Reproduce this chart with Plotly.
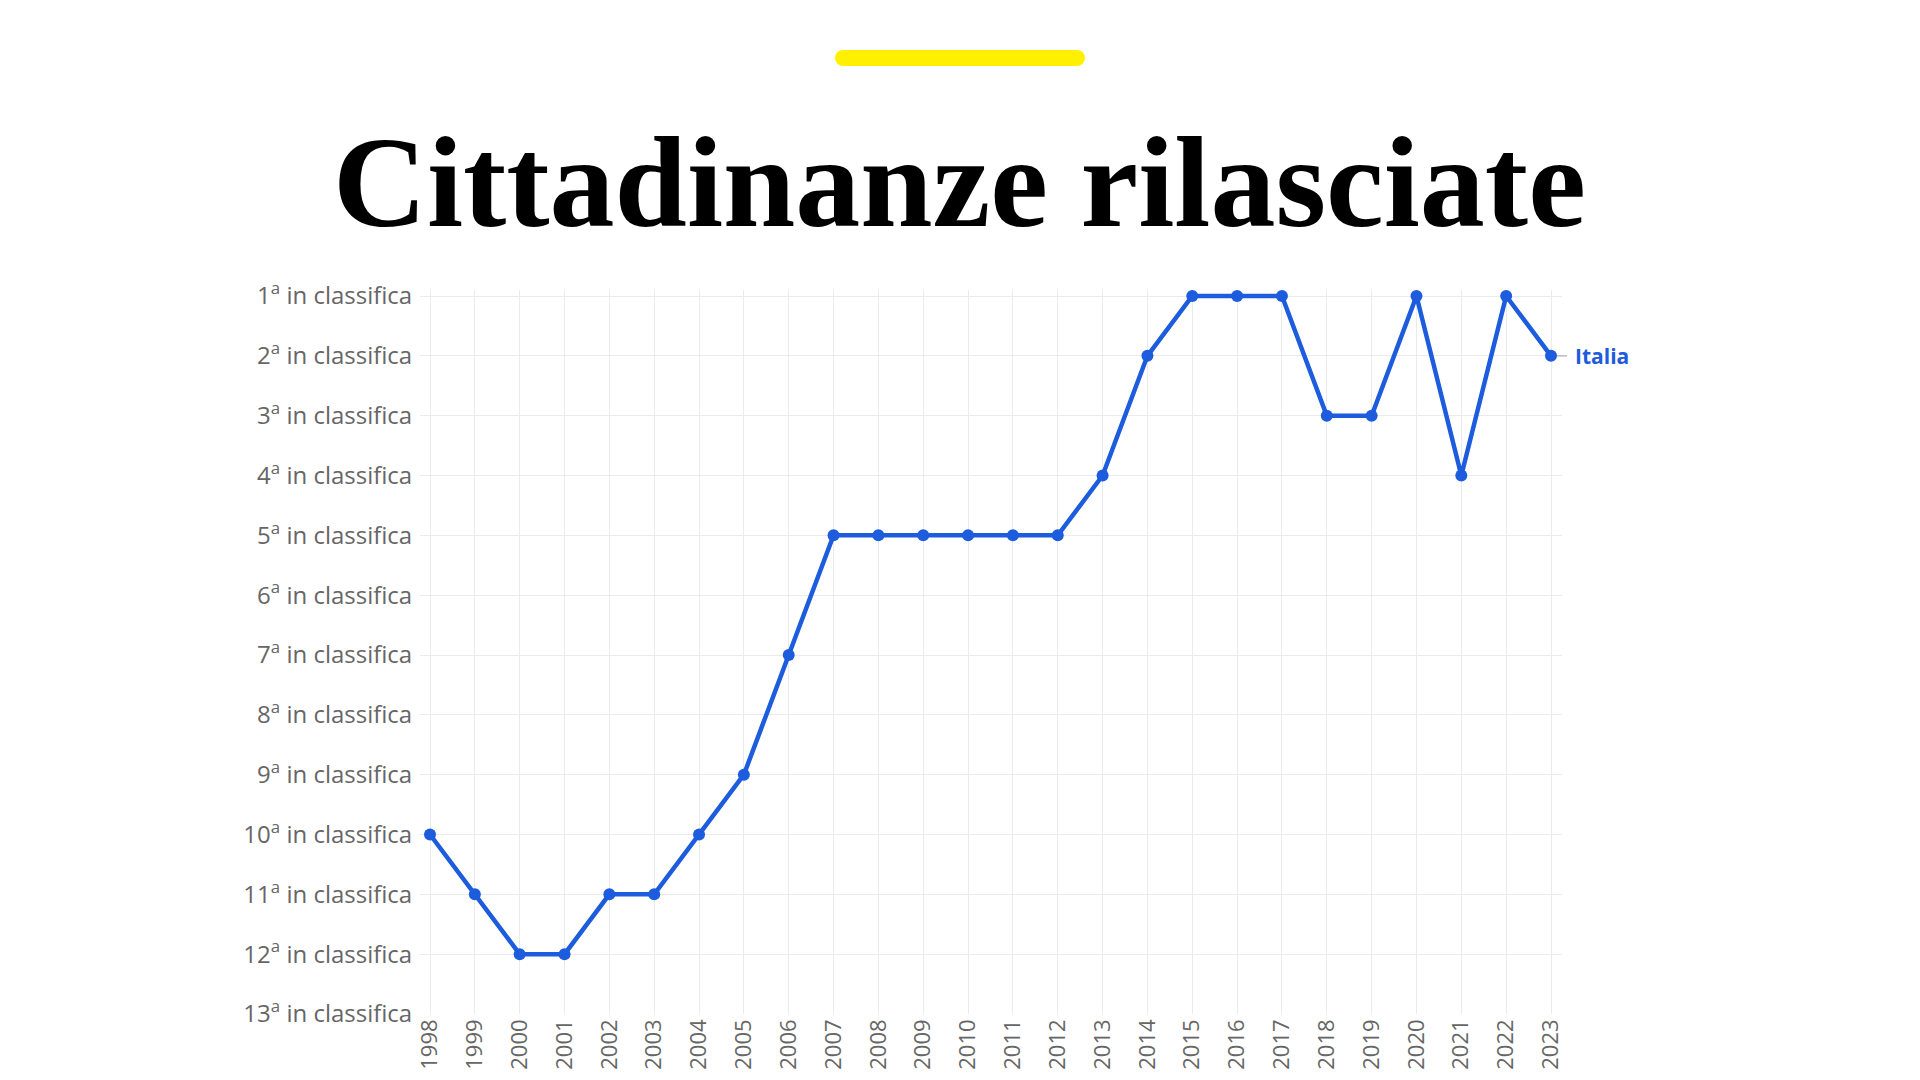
import plotly.graph_objects as go

years = list(range(1998, 2024))
rank = [10, 11, 12, 12, 11, 11, 10, 9, 7, 5, 5, 5, 5, 5, 5, 4, 2, 1, 1, 1, 3, 3, 1, 4, 1, 2]
rank_ticks = list(range(1, 14))
rank_labels = [f"{r}<sup>a</sup> in classifica" for r in rank_ticks]
title_text = "Cittadinanze rilasciate"
series_name = "Italia"

W, H = 1920, 1080
OFF = 8  # page body margin offset
PL, PR, PT, PB = 420 - OFF, 1562 - OFF, 290 - OFF, 1014 - OFF
PX_PER_YEAR = (1551 - 430) / 25.0
PX_PER_RANK = (1014 - 296) / 12.0


def fx(p):
    return (p - OFF - PL) / (PR - PL)


def fy(p):
    return (PB - (p - OFF)) / (PB - PT)


BLUE = "#1c5cdd"
GRID = "#ebebeb"
LABEL = "#666666"

fig = go.Figure()
fig.add_trace(go.Scatter(
    x=years, y=rank, mode="lines+markers", name=series_name,
    line=dict(color=BLUE, width=4.5),
    marker=dict(color=BLUE, size=12),
    cliponaxis=False, showlegend=False,
    hoverinfo="x+y",
))

x0 = 1998 - 10 / PX_PER_YEAR
x1 = 2023 + 11 / PX_PER_YEAR
ytop = 1 - 6 / PX_PER_RANK

fig.update_layout(
    width=W, height=H,
    margin=dict(l=PL, r=W - PR, t=PT, b=H - PB, pad=0),
    paper_bgcolor="white", plot_bgcolor="white",
    xaxis=dict(
        range=[x0, x1], tickmode="array", tickvals=years,
        ticktext=[str(y) for y in years],
        tickangle=-90, showgrid=True, gridcolor=GRID, gridwidth=1,
        zeroline=False, showline=False, ticks="",
        tickfont=dict(family="Open Sans", size=22, color=LABEL),
        fixedrange=True,
    ),
    yaxis=dict(
        range=[13, ytop], tickmode="array", tickvals=rank_ticks,
        ticktext=rank_labels, showgrid=True, gridcolor=GRID, gridwidth=1,
        zeroline=False, showline=False, ticks="outside", ticklen=2,
        tickcolor="rgba(0,0,0,0)",
        tickfont=dict(family="Open Sans", size=24, color=LABEL),
        fixedrange=True,
    ),
    font=dict(family="Open Sans"),
)

# yellow bar with rounded ends
YEL = "#FFF000"
bx0, bx1, by0, by1 = 835, 1085, 50, 66
r = (by1 - by0) / 2
fig.add_shape(type="rect", xref="paper", yref="paper",
              x0=fx(bx0 + r), x1=fx(bx1 - r), y0=fy(by1), y1=fy(by0),
              fillcolor=YEL, line=dict(width=0), layer="above")
fig.add_shape(type="circle", xref="paper", yref="paper",
              x0=fx(bx0), x1=fx(bx0 + 2 * r), y0=fy(by1), y1=fy(by0),
              fillcolor=YEL, line=dict(width=0), layer="above")
fig.add_shape(type="circle", xref="paper", yref="paper",
              x0=fx(bx1 - 2 * r), x1=fx(bx1), y0=fy(by1), y1=fy(by0),
              fillcolor=YEL, line=dict(width=0), layer="above")

# title
fig.add_annotation(
    text=f"<b>{title_text}</b>", xref="paper", yref="paper",
    x=fx(959), y=fy(182), xanchor="center", yanchor="middle",
    showarrow=False,
    font=dict(family="Liberation Serif", size=130, color="#000000"),
)

# series label
fig.add_shape(type="line", xref="paper", yref="y",
              x0=fx(1557), x1=fx(1567), y0=rank[-1], y1=rank[-1],
              line=dict(color="#bbbbbb", width=1.5))
fig.add_annotation(
    text=f"<b>{series_name}</b>", xref="paper", yref="y",
    x=fx(1573), y=rank[-1], xanchor="left", yanchor="middle",
    showarrow=False,
    font=dict(family="Open Sans", size=21, color=BLUE),
)

fig.write_html("out.html")
